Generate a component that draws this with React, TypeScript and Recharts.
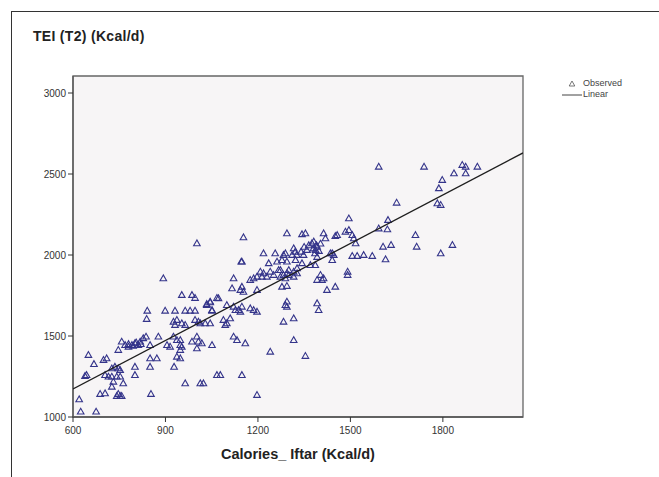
import React from 'react';
import { ComposedChart, Scatter, XAxis, YAxis, ReferenceArea } from 'recharts';

const xTicks = [600, 900, 1200, 1500, 1800];
const yTicks = [1000, 1500, 2000, 2500, 3000];
const xDomain: [number, number] = [600, 2060];
const yDomain: [number, number] = [1000, 3105];

const caloriesIftar = [
  893, 953, 986, 996, 1067, 841, 839, 899, 931, 964, 980, 996, 1034, 1045, 1051,
  926, 937, 953, 964, 931, 996, 1007, 1013, 1029, 1045,
  758, 747, 769, 780, 791, 801, 812, 818, 828, 837, 850,
  877, 905, 915, 926, 937, 948, 953, 948, 948,
  986, 1002, 1007, 1018, 1002, 1051,
  650, 668, 699, 709, 644, 639,
  704, 715, 726, 736, 747, 753, 726, 742, 753,
  731, 726, 763,
  801, 801, 850, 872, 850,
  928, 948, 964, 1023, 1067,
  688, 704, 742, 753, 758, 747, 853,
  620, 625, 675,
  780, 795, 805, 820,
  1002, 1153, 1146, 1294, 1343, 1354,
  1380, 1390, 1398, 1403, 1385,
  1218, 1256, 1289, 1278, 1311, 1316, 1322,
  1235, 1262, 1267, 1294, 1300, 1327, 1343, 1348, 1359,
  1273, 1289, 1300, 1316, 1327,
  1121, 1116, 1148, 1143, 1153,
  1197, 1278, 1294, 1392,
  1294, 1294, 1392, 1397,
  1072, 1045, 1034, 1051,
  1099, 1121, 1127, 1137, 1148, 1143, 1175, 1186, 1197,
  1088, 1099, 1110, 1094,
  1121, 1132, 1159,
  1240, 1283, 1316, 1316, 1354,
  937, 1078, 1148, 1197, 1013,
  1326, 1340, 1350, 1365, 1375, 1392,
  1283, 1321, 1381, 1435, 1446,
  1370, 1386, 1148,
  1208, 1218, 1240, 1273, 1294, 1316, 1197, 1213, 1229, 1251, 1283,
  1175, 1186,
  1403, 1413, 1408, 1424, 1451,
  1289,
  1592, 1739, 1836, 1863, 1874, 1874, 1912,
  1798, 1787, 1650, 1782, 1793,
  1495, 1622, 1620, 1592, 1711, 1831, 1793, 1715,
  1606, 1632, 1571, 1614, 1543, 1522, 1506,
  1495, 1484, 1457, 1451,
  1506, 1511, 1517, 1413, 1419,
  1392, 1387, 1441, 1441,
  1491, 1491,
];

const teiT2 = [
  1856, 1753, 1753, 1735, 1735, 1656, 1605, 1656, 1656, 1656, 1656, 1656, 1698, 1708, 1656,
  1588, 1599, 1578, 1568, 1568, 1599, 1588, 1578, 1578, 1578,
  1465, 1414, 1444, 1434, 1444, 1455, 1444, 1465, 1486, 1496, 1444,
  1496, 1444, 1434, 1496, 1475, 1475, 1434, 1414, 1444,
  1465, 1496, 1465, 1455, 1424, 1444,
  1383, 1327, 1352, 1362, 1259, 1253,
  1259, 1249, 1249, 1310, 1300, 1290, 1300, 1249, 1249,
  1218, 1187, 1208,
  1310, 1259, 1362, 1362, 1310,
  1310, 1362, 1208, 1208, 1259,
  1142, 1146, 1130, 1130, 1130, 1142, 1142,
  1109, 1033, 1033,
  1450, 1440, 1460, 1450,
  2072, 2109, 1959, 2134, 2128, 2134,
  2040, 2060, 2025, 2070, 2010,
  2010, 2010, 2010, 1969, 2000, 2041, 1969,
  1949, 1959, 1907, 1959, 1907, 1918, 1949, 2000, 2031,
  1866, 1856, 1877, 1866, 1887,
  1856, 1794, 1804, 1784, 1773,
  1784, 1804, 1809, 1846,
  1712, 1681, 1702, 1660,
  1733, 1712, 1691, 1660,
  1691, 1681, 1660, 1660, 1681, 1650, 1671, 1660, 1650,
  1599, 1578, 1609, 1568,
  1496, 1475, 1455,
  1403, 1588, 1609, 1475, 1377,
  1372, 1259, 1259, 1136, 1208,
  2000, 2020, 2050, 2060, 2072, 1988,
  2000, 2020, 2083, 2010, 2000,
  1938, 1938, 1959,
  1897, 1887, 1897, 1907, 1887, 1897, 1866, 1866, 1866, 1877, 1877,
  1846, 1856,
  1877, 1856, 1846, 1784, 1804,
  1691,
  2545, 2545, 2504, 2556, 2545, 2504, 2545,
  2463, 2412, 2323, 2319, 2309,
  2226, 2216, 2158, 2164, 2123, 2062, 2010, 2051,
  2051, 2062, 1994, 1973, 2000, 1994, 1994,
  2154, 2144, 2123, 2117,
  2123, 2103, 2072, 2134, 2103,
  2051, 2031, 2010, 1969,
  1897, 1877,
];

const fitX = [600, 2060];
const fitY = [1173, 2630];

const seriesNames = ['Observed', 'Linear'];

const observed = caloriesIftar.map((x, i) => ({ x, y: teiT2[i] }));
const fit = fitX.map((x, i) => ({ x, y: fitY[i] }));

const FONT = 'Arial, "Liberation Sans", sans-serif';
const MARK = '#34348a';

const Triangle = (props: any) => {
  const { cx, cy } = props;
  if (cx == null || cy == null) return <g />;
  return (
    <polygon
      points={`${cx},${cy - 3.4} ${cx - 3.3},${cy + 2.4} ${cx + 3.3},${cy + 2.4}`}
      fill="none"
      stroke={MARK}
      strokeWidth={1.1}
    />
  );
};

const Nothing = () => <g />;

const LegendBox = () => (
  <div
    style={{
      position: 'absolute',
      left: 562,
      top: 78,
      fontFamily: FONT,
      fontSize: 9,
      color: '#444',
      lineHeight: '11px',
    }}
  >
    <div style={{ display: 'flex', alignItems: 'center' }}>
      <svg width={20} height={10}>
        <polygon points="10,2 7.2,7 12.8,7" fill="none" stroke="#666" strokeWidth={0.9} />
      </svg>
      <span style={{ marginLeft: 1 }}>{seriesNames[0]}</span>
    </div>
    <div style={{ display: 'flex', alignItems: 'center' }}>
      <svg width={20} height={10}>
        <line x1={0} y1={5} x2={20} y2={5} stroke="#444" strokeWidth={1} />
      </svg>
      <span style={{ marginLeft: 1 }}>{seriesNames[1]}</span>
    </div>
  </div>
);

export default function App() {
  return (
    <div style={{ position: 'absolute', left: 0, top: 0, width: 659, height: 477, background: '#fff', overflow: 'hidden' }}>
      <div
        style={{
          position: 'absolute',
          left: 11,
          top: 11,
          width: 660,
          height: 480,
          borderTop: '1.5px solid #333',
          borderLeft: '1.5px solid #333',
        }}
      />
      <div
        style={{
          position: 'absolute',
          left: 33,
          top: 28,
          fontFamily: FONT,
          fontWeight: 'bold',
          fontSize: 14,
          color: '#222',
          whiteSpace: 'nowrap',
          letterSpacing: 0.3,
        }}
      >
        TEI (T2) (Kcal/d)
      </div>
      <LegendBox />
      <div style={{ position: 'absolute', left: 0, top: 0 }}>
        <ComposedChart
          width={659}
          height={477}
          margin={{ top: 76, right: 136, bottom: 0, left: 33 }}
        >
          <XAxis
            type="number"
            dataKey="x"
            domain={xDomain}
            ticks={xTicks}
            allowDataOverflow
            height={60}
            tickSize={5}
            tickMargin={5}
            tickLine={{ stroke: '#333' }}
            axisLine={{ stroke: '#555', strokeWidth: 1.3 }}
            tick={{ fill: '#333', fontSize: 10, fontFamily: FONT }}
            label={{
              value: 'Calories_ Iftar (Kcal/d)',
              position: 'insideBottom',
              offset: 18,
              style: { fontFamily: FONT, fontWeight: 'bold', fontSize: 14.5, fill: '#222' },
            }}
          />
          <YAxis
            type="number"
            dataKey="y"
            domain={yDomain}
            ticks={yTicks}
            allowDataOverflow
            width={40}
            tickSize={5}
            tickLine={{ stroke: '#333' }}
            axisLine={{ stroke: '#555', strokeWidth: 1.3 }}
            tick={{ fill: '#333', fontSize: 10, fontFamily: FONT }}
          />
          <ReferenceArea
            x1={xDomain[0]}
            x2={xDomain[1]}
            y1={yDomain[0]}
            y2={yDomain[1]}
            fill="#f7f5f6"
            fillOpacity={1}
            stroke="#666"
            strokeWidth={1.3}
          />
          <Scatter
            name={seriesNames[0]}
            data={observed}
            shape={Triangle}
            legendType="triangle"
            isAnimationActive={false}
          />
          <Scatter
            name={seriesNames[1]}
            data={fit}
            shape={Nothing}
            line={{ stroke: '#1e1e1e', strokeWidth: 1.3 }}
            legendType="line"
            isAnimationActive={false}
          />
        </ComposedChart>
      </div>
    </div>
  );
}
